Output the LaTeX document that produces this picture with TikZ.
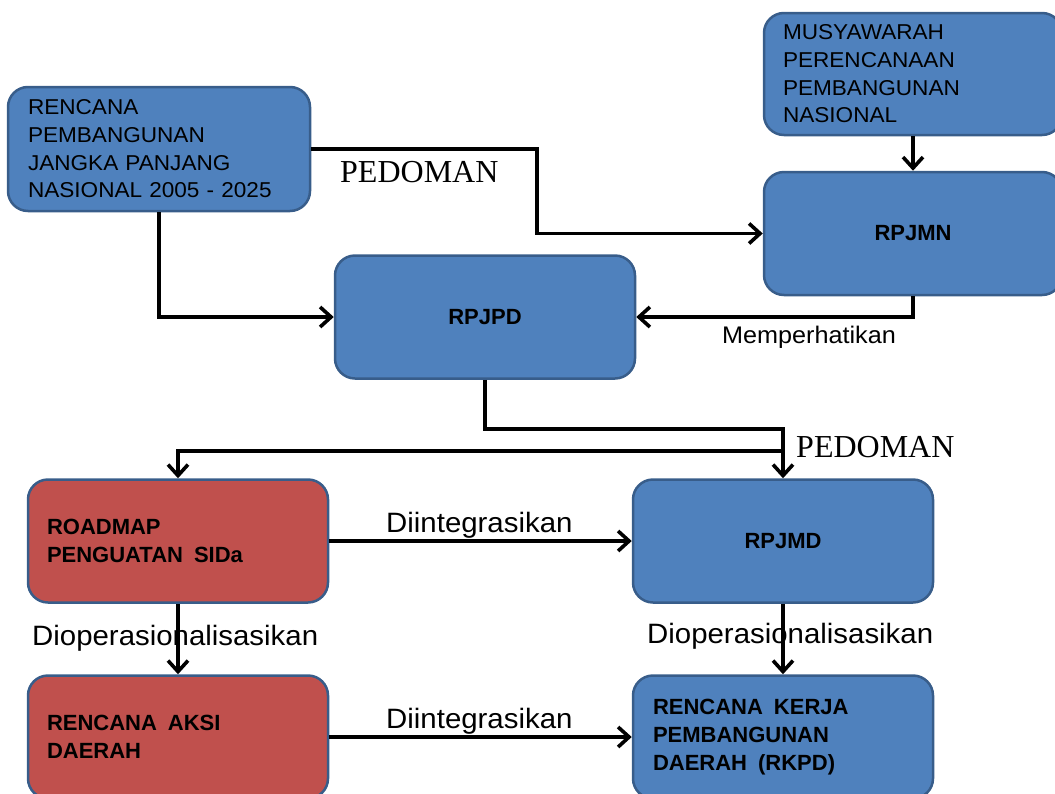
\documentclass[tikz,border=0pt]{standalone}
\usepackage{fontspec}
\setmainfont{Liberation Sans}
\newfontfamily\regf{Liberation Sans}[FakeStretch=1.05]
\newfontfamily\serf{Liberation Serif}
\usetikzlibrary{arrows.meta}
\definecolor{boxblue}{HTML}{4F81BD}
\definecolor{boxred}{HTML}{C0504D}
\definecolor{boxedge}{HTML}{385D8A}
\begin{document}
\begin{tikzpicture}[x=1pt,y=-1pt,
  box/.style={draw=boxedge, line width=2.5pt, rounded corners=20pt, minimum width=300pt, minimum height=123pt, inner sep=0pt, text=black},
  bluebox/.style={box, fill=boxblue},
  redbox/.style={box, fill=boxred},
  regtext/.style={font=\regf\fontsize{21.5}{27.7}\selectfont, align=left},
  boldtext/.style={font=\bfseries\fontsize{22}{28}\selectfont, align=left},
  conn/.style={line width=3.6pt, -{Straight Barb[length=11pt,width=20pt]}},
  lbl/.style={inner sep=0pt, anchor=base west, text=black},
  sanslbl/.style={lbl, font=\regf\fontsize{28}{30}\selectfont},
  serlbl/.style={lbl, font=\serf\fontsize{32}{36}\selectfont},
]
\useasboundingbox (0,0) rectangle (1055,793);

% boxes
\node[bluebox, regtext, minimum width=302pt, minimum height=124pt, text width=262pt] (rpjpn) at (159,149)
  {RENCANA\\PEMBANGUNAN\\JANGKA PANJANG\\NASIONAL 2005 - 2025};
\node[bluebox, regtext, minimum width=298pt, minimum height=122pt, text width=260pt] (musy) at (913,74)
  {MUSYAWARAH\\PERENCANAAN\\PEMBANGUNAN\\NASIONAL};
\node[bluebox, boldtext, minimum width=298pt] (rpjmn) at (913,233.5) {RPJMN};
\node[bluebox, boldtext] (rpjpd) at (485,317) {RPJPD};
\node[redbox, boldtext, text width=262pt] (roadmap) at (178,541)
  {ROADMAP\\PENGUATAN\hspace{11pt}SIDa};
\node[bluebox, boldtext] (rpjmd) at (783,541) {RPJMD};
\node[redbox, boldtext, text width=262pt] (rad) at (178,737)
  {RENCANA\hspace{11pt}AKSI\\DAERAH};
\node[bluebox, boldtext, text width=260pt] (rkpd) at (783,737)
  {RENCANA\hspace{11pt}KERJA\\PEMBANGUNAN\\DAERAH\hspace{11pt}(RKPD)};

% labels
\node[serlbl] (ped1) at (340,182) {PEDOMAN};
\node[serlbl] (ped2) at (796,457) {PEDOMAN};
\node[lbl, font=\regf\fontsize{24}{26}\selectfont] (memp) at (722,343) {Memperhatikan};
\node[sanslbl] (int1) at (386,532) {Diintegrasikan};
\node[sanslbl] (int2) at (386,728) {Diintegrasikan};
\node[sanslbl] (op1) at (32,645) {Dioperasionalisasikan};
\node[sanslbl] (op2) at (647,643) {Dioperasionalisasikan};

% connectors
\coordinate (k1) at (537,190);
\coordinate (k2) at (600,429);
\coordinate (k3) at (783,451);
\draw[conn] (rpjpn.east) -| (k1) |- (rpjmn.west);
\draw[conn] (rpjpn.south) |- (rpjpd.west);
\draw[conn] (musy.south) -- (rpjmn.north);
\draw[conn] (rpjmn.south) |- (rpjpd.east);
\draw[conn] (rpjpd.south) |- (k2) -| (rpjmd.north);
\draw[conn] (k3) -| (roadmap.north);
\draw[conn] (roadmap.east) -- (rpjmd.west);
\draw[conn] (roadmap.south) -- (rad.north);
\draw[conn] (rpjmd.south) -- (rkpd.north);
\draw[conn] (rad.east) -- (rkpd.west);
\end{tikzpicture}
\end{document}
